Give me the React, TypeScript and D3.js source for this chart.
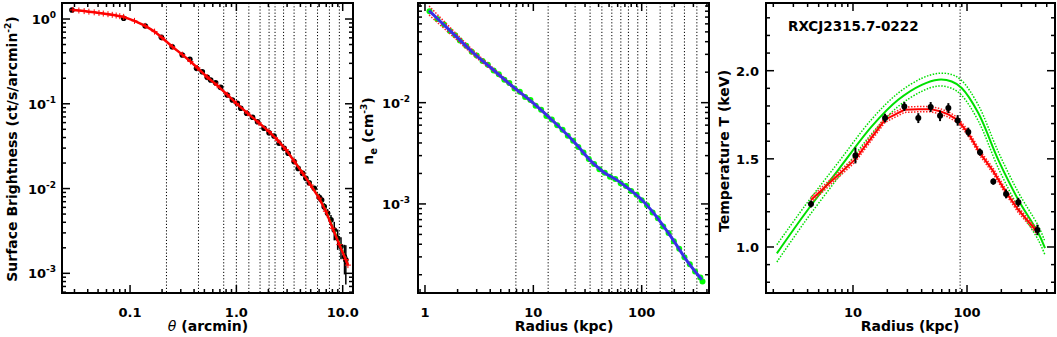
import * as d3 from "d3";

// ---- panel 1: surface brightness profile
const sbTheta = [0.0284, 0.0871, 0.139, 0.197, 0.249, 0.31, 0.365, 0.422, 0.478, 0.532, 0.573, 0.638, 0.711, 0.822, 0.917, 1.02, 1.10, 1.25, 1.42, 1.58, 1.82, 2.03, 2.26, 2.52, 2.81, 3.07, 3.49, 3.81, 4.20, 4.51, 4.84, 5.40, 6.02, 6.34, 6.70, 7.21, 7.76, 8.33, 8.97, 9.64, 10.4, 10.7];
const sbValue = [1.28, 1.02, 0.827, 0.608, 0.471, 0.376, 0.335, 0.262, 0.239, 0.205, 0.191, 0.177, 0.156, 0.127, 0.111, 0.101, 0.0885, 0.0773, 0.0693, 0.0615, 0.0514, 0.0456, 0.0417, 0.0342, 0.0299, 0.0261, 0.0208, 0.0173, 0.0151, 0.0132, 0.0117, 0.0101, 0.00789, 0.00734, 0.00612, 0.00512, 0.00427, 0.00325, 0.00259, 0.00207, 0.00157, 0.00144];
const sbErr = [0.02, 0.015, 0.012, 0.01, 0.008, 0.007, 0.006, 0.005, 0.005, 0.004, 0.004, 0.004, 0.003, 0.003, 0.003, 0.002, 0.002, 0.002, 0.0015, 0.0015, 0.0012, 0.001, 0.001, 0.0009, 0.0008, 0.0007, 0.0006, 0.0006, 0.0005, 0.0005, 0.0005, 0.0005, 0.0008, 0.0007, 0.0006, 0.0006, 0.0006, 0.0008, 0.0007, 0.0006, 0.0006, 0.0007];
const sbModelTheta = [0.029, 0.033, 0.037, 0.041, 0.046, 0.051, 0.056, 0.062, 0.068, 0.074, 0.08, 0.087, 0.11, 0.139, 0.17, 0.2, 0.25, 0.31, 0.37, 0.43, 0.53, 0.66, 0.82, 1.0, 1.27, 1.63, 2.03, 2.44, 2.92, 3.5, 4.2, 5.0, 6.0, 6.95, 8.05, 9.3, 10.7, 11.2];
const sbModel = [1.28, 1.26, 1.24, 1.22, 1.2, 1.18, 1.16, 1.14, 1.12, 1.1, 1.08, 1.06, 0.95, 0.83, 0.71, 0.6, 0.47, 0.38, 0.315, 0.265, 0.207, 0.165, 0.128, 0.101, 0.0775, 0.0595, 0.047, 0.0372, 0.0288, 0.021, 0.0152, 0.011, 0.0077, 0.0054, 0.0034, 0.00218, 0.00145, 0.00125];
const sbGreen = [1.28, 1.26, 1.24, 1.22, 1.2, 1.18, 1.16, 1.14, 1.12, 1.1, 1.08, 1.06, 0.95, 0.83, 0.71, 0.6, 0.47, 0.38, 0.315, 0.265, 0.207, 0.165, 0.128, 0.101, 0.0778, 0.0598, 0.0474, 0.0376, 0.0292, 0.0214, 0.0156, 0.0114, 0.0080, 0.0057, 0.0036, 0.00232, 0.00152, 0.00128];
const annuliArcmin = [0.22, 0.44, 0.76, 1.0, 1.31, 1.67, 2.03, 2.31, 2.78, 3.49, 4.5, 5.8, 7.5, 9.3];

// ---- panel 2: electron density
const neR = [1.1, 1.3, 1.5, 1.7, 1.9, 2.1, 2.4, 2.7, 3.0, 3.4, 3.8, 4.3, 4.8, 5.4, 6.0, 6.7, 7.5, 8.4, 9.4, 10.5, 11.8, 13.2, 14.8, 16.6, 18.6, 20.8, 23.3, 26, 29, 32.5, 36.4, 40.7, 45.6, 51, 57, 64, 71.6, 80, 89.7, 100, 112, 126, 141, 158, 177, 198, 222, 248, 278, 311, 348, 364];
const neData = [0.080, 0.0670, 0.0590, 0.0510, 0.0462, 0.0412, 0.0365, 0.0318, 0.0293, 0.0258, 0.0237, 0.0208, 0.0191, 0.0168, 0.0156, 0.0138, 0.0128, 0.0114, 0.0106, 0.0093, 0.0085, 0.0074, 0.0068, 0.0060, 0.0054, 0.0047, 0.0042, 0.00365, 0.00322, 0.00278, 0.00248, 0.00220, 0.00203, 0.00186, 0.00176, 0.00160, 0.00150, 0.00134, 0.00123, 0.00109, 0.00097, 0.000825, 0.000722, 0.000598, 0.000515, 0.000428, 0.000362, 0.000297, 0.000254, 0.000215, 0.000188, 0.000171];
const neModelR = [1.09, 1.5, 2.0, 2.7, 4.43, 6.3, 10, 15.9, 24.3, 34.6, 44.3, 61, 78, 100, 133, 190, 270, 359];
const neModel = [0.081, 0.0585, 0.0436, 0.032, 0.0204, 0.0147, 0.0099, 0.0063, 0.0040, 0.0026, 0.00207, 0.00168, 0.00138, 0.0011, 0.00078, 0.00046, 0.000262, 0.000179];
const neEnvR = [1.09, 1.5, 2.0, 2.7, 4.43, 6.3, 10, 15.9];
const neHi = [0.090, 0.0635, 0.0466, 0.0338, 0.0212, 0.0151, 0.0101, 0.0064];
const neLo = [0.0735, 0.054, 0.041, 0.0304, 0.0197, 0.0143, 0.0097, 0.0062];
const annuliKpc = [6.9, 13.7, 24.3, 33.4, 42.9, 53, 64.2, 75.4, 92, 111, 148, 190, 248, 323];

// ---- panel 3: temperature profile
const tR = [4.28, 10.5, 19.1, 28.2, 37.4, 48, 58, 68.6, 82.8, 102.6, 130, 170, 220, 282, 414];
const tData = [1.244, 1.519, 1.731, 1.797, 1.731, 1.794, 1.744, 1.788, 1.718, 1.652, 1.538, 1.371, 1.301, 1.254, 1.097];
const tErr = [0.02, 0.045, 0.025, 0.025, 0.028, 0.028, 0.03, 0.028, 0.03, 0.025, 0.02, 0.018, 0.025, 0.025, 0.03];
const tRedR = [4.28, 10.5, 19.1, 28.2, 37.4, 48, 58, 68.6, 82.8, 102.6, 130, 170, 220, 282, 414];
const tRed = [1.267, 1.498, 1.722, 1.778, 1.782, 1.782, 1.77, 1.752, 1.72, 1.645, 1.532, 1.43, 1.31, 1.21, 1.085];
const tRedHi = [1.282, 1.513, 1.737, 1.793, 1.797, 1.797, 1.785, 1.767, 1.735, 1.66, 1.547, 1.445, 1.325, 1.225, 1.1];
const tRedLo = [1.252, 1.483, 1.707, 1.763, 1.767, 1.767, 1.755, 1.737, 1.705, 1.63, 1.517, 1.415, 1.295, 1.195, 1.07];
const tGreenR = [2.15, 3.8, 7.43, 14.6, 24.9, 40.1, 56, 73.4, 89.8, 125.6, 188, 282, 423, 483];
const tGreen = [0.964, 1.19, 1.4375, 1.684, 1.835, 1.92, 1.949, 1.939, 1.902, 1.76, 1.494, 1.267, 1.078, 0.993];
const tGreenHi = [1.013, 1.235, 1.48, 1.725, 1.873, 1.957, 1.985, 1.978, 1.944, 1.805, 1.54, 1.31, 1.118, 1.03];
const tGreenLo = [0.915, 1.145, 1.395, 1.643, 1.797, 1.883, 1.913, 1.9, 1.86, 1.715, 1.448, 1.224, 1.038, 0.955];
const tMarkKpc = [87];

type Box = { x0: number; x1: number; y0: number; y1: number };
const B1: Box = { x0: 62, x1: 353, y0: 3, y1: 293 };
const B2: Box = { x0: 418, x1: 709, y0: 3, y1: 293 };
const B3: Box = { x0: 766, x1: 1055, y0: 3, y1: 293 };

const FONT = "DejaVu Sans, sans-serif";
const zip = (a: number[], b: number[]) => a.map((v, i) => [v, b[i]] as [number, number]);
const isPow10 = (v: number) => Math.abs(Math.log10(v) - Math.round(Math.log10(v))) < 1e-6;

function Frame({ box, xt, yt }: { box: Box; xt: { p: number; major: boolean }[]; yt: { p: number; major: boolean }[] }) {
  const { x0, x1, y0, y1 } = box;
  const lines: any[] = [];
  xt.forEach((t, i) => {
    const L = t.major ? 8 : 4;
    lines.push(<line key={"xb" + i} x1={t.p} x2={t.p} y1={y1} y2={y1 - L} />);
    lines.push(<line key={"xt" + i} x1={t.p} x2={t.p} y1={y0} y2={y0 + L} />);
  });
  yt.forEach((t, i) => {
    const L = t.major ? 8 : 4;
    lines.push(<line key={"yl" + i} x1={x0} x2={x0 + L} y1={t.p} y2={t.p} />);
    lines.push(<line key={"yr" + i} x1={x1} x2={x1 - L} y1={t.p} y2={t.p} />);
  });
  return (
    <g stroke="#000" strokeWidth={1.5} fill="none">
      {lines}
      <rect x={x0} y={y0} width={x1 - x0} height={y1 - y0} strokeWidth={2} />
    </g>
  );
}

function logTicks(s: d3.ScaleLogarithmic<number, number>) {
  const [a, b] = s.domain();
  return s.ticks().filter((v) => v >= a && v <= b).map((v) => ({ v, p: s(v), major: isPow10(v) }));
}

function Dotted({ xs, box, values }: { xs: (v: number) => number; box: Box; values: number[] }) {
  return (
    <g stroke="#000" strokeWidth={1} strokeDasharray="1.2,2">
      {values.map((v, i) => (
        <line key={i} x1={xs(v)} x2={xs(v)} y1={box.y0} y2={box.y1} />
      ))}
    </g>
  );
}

function Panel1() {
  const b = B1;
  const x = d3.scaleLog().domain([0.0229, 12.5]).range([b.x0, b.x1]);
  const y = d3.scaleLog().domain([5.86e-4, 1.545]).range([b.y1, b.y0]);
  const xt = logTicks(x);
  const yt = logTicks(y);
  const line = d3.line<[number, number]>().x((d) => x(d[0])).y((d) => y(d[1]));
  const model = zip(sbModelTheta, sbModel);
  const xLabels: Record<string, string> = { "0.1": "0.1", "1": "1.0", "10": "10.0" };
  return (
    <g>
      <defs>
        <clipPath id="c1"><rect x={b.x0} y={b.y0} width={b.x1 - b.x0} height={b.y1 - b.y0} /></clipPath>
      </defs>
      <Dotted xs={x} box={b} values={annuliArcmin} />
      <g clipPath="url(#c1)">
        <g stroke="#000" strokeWidth={1.5}>
          {sbTheta.map((t, i) => (
            <line key={i} x1={x(t)} x2={x(t)} y1={y(Math.max(sbValue[i] - sbErr[i], 1e-5))} y2={y(sbValue[i] + sbErr[i])} />
          ))}
        </g>
        {sbTheta.map((t, i) => (
          <circle key={i} cx={x(t)} cy={y(sbValue[i])} r={2.8} fill="#000" />
        ))}
        <path d={line(zip(sbModelTheta, sbGreen)) || ""} fill="none" stroke="#00e000" strokeWidth={1.5} strokeDasharray="2,1.5" />
        <path d={line(model) || ""} fill="none" stroke="#ff0000" strokeWidth={2.5} />
        <g stroke="#ff0000" strokeWidth={1}>
          {model.map((d, i) => (
            <g key={i}>
              <line x1={x(d[0]) - 3} x2={x(d[0]) + 3} y1={y(d[1])} y2={y(d[1])} />
              <line x1={x(d[0])} x2={x(d[0])} y1={y(d[1]) - 3} y2={y(d[1]) + 3} />
            </g>
          ))}
        </g>
      </g>
      <Frame box={b} xt={xt} yt={yt} />
      <g fontFamily={FONT} fontWeight="bold" fontSize={13} fill="#000">
        {xt.filter((t) => t.major).map((t) => (
          <text key={t.v} x={t.p} y={317} textAnchor="middle">{xLabels[String(t.v)]}</text>
        ))}
        {yt.filter((t) => t.major).map((t) => (
          <text key={t.v} x={b.x0 - 6} y={t.p + 5} textAnchor="end">
            10<tspan dy={-6} fontSize={9}>{String(Math.round(Math.log10(t.v)))}</tspan>
          </text>
        ))}
        <text x={208} y={331} textAnchor="middle" fontSize={14}>
          <tspan fontStyle="italic" fontWeight="normal">θ</tspan> (arcmin)
        </text>
        <text transform="translate(17,149) rotate(-90)" textAnchor="middle" fontSize={14}>
          Surface Brightness (ct/s/arcmin<tspan dy={-6} fontSize={9}>-2</tspan><tspan dy={6}>)</tspan>
        </text>
      </g>
    </g>
  );
}

function Panel2() {
  const b = B2;
  const x = d3.scaleLog().domain([0.862, 418]).range([b.x0, b.x1]);
  const y = d3.scaleLog().domain([1.32e-4, 0.0964]).range([b.y1, b.y0]);
  const xt = logTicks(x);
  const yt = logTicks(y);
  const smooth = d3.line<[number, number]>().x((d) => x(d[0])).y((d) => y(d[1])).curve(d3.curveMonotoneX);
  return (
    <g>
      <defs>
        <clipPath id="c2"><rect x={b.x0} y={b.y0} width={b.x1 - b.x0} height={b.y1 - b.y0} /></clipPath>
      </defs>
      <Dotted xs={x} box={b} values={annuliKpc} />
      <g clipPath="url(#c2)">
        {neR.map((r, i) => (
          <circle key={i} cx={x(r)} cy={y(neData[i])} r={3} fill="#00ff00" />
        ))}
        <path d={smooth(zip(neEnvR, neHi)) || ""} fill="none" stroke="#ff2020" strokeWidth={1.5} strokeDasharray="1.5,1.5" />
        <path d={smooth(zip(neEnvR, neLo)) || ""} fill="none" stroke="#ff2020" strokeWidth={1.5} strokeDasharray="1.5,1.5" />
        <path d={smooth(zip(neModelR, neModel)) || ""} fill="none" stroke="#3a2ee6" strokeWidth={3} />
      </g>
      <Frame box={b} xt={xt} yt={yt} />
      <g fontFamily={FONT} fontWeight="bold" fontSize={13} fill="#000">
        {xt.filter((t) => t.major).map((t) => (
          <text key={t.v} x={t.p} y={317} textAnchor="middle">{String(t.v)}</text>
        ))}
        {yt.filter((t) => t.major).map((t) => (
          <text key={t.v} x={b.x0 - 8} y={t.p + 5} textAnchor="end">
            10<tspan dy={-6} fontSize={9}>{String(Math.round(Math.log10(t.v)))}</tspan>
          </text>
        ))}
        <text x={564} y={331} textAnchor="middle" fontSize={14}>Radius (kpc)</text>
        <text transform="translate(373,131) rotate(-90)" textAnchor="middle" fontSize={14}>
          n<tspan dy={4} fontSize={10}>e</tspan><tspan dy={-4}> (cm</tspan><tspan dy={-6} fontSize={9}>-3</tspan><tspan dy={6}>)</tspan>
        </text>
      </g>
    </g>
  );
}

function Panel3() {
  const b = B3;
  const x = d3.scaleLog().domain([1.726, 591]).range([b.x0, b.x1]);
  const y = d3.scaleLinear().domain([0.739, 2.384]).range([b.y1, b.y0]);
  const xt = logTicks(x);
  const yt = y.ticks(20).map((v) => ({ v, p: y(v), major: Math.abs(v * 2 - Math.round(v * 2)) < 1e-6 }));
  const lin = d3.line<[number, number]>().x((d) => x(d[0])).y((d) => y(d[1]));
  const smooth = d3.line<[number, number]>().x((d) => x(d[0])).y((d) => y(d[1])).curve(d3.curveCatmullRom.alpha(0.5));
  return (
    <g>
      <defs>
        <clipPath id="c3"><rect x={b.x0} y={b.y0} width={b.x1 - b.x0} height={b.y1 - b.y0} /></clipPath>
      </defs>
      <Dotted xs={x} box={b} values={tMarkKpc} />
      <g clipPath="url(#c3)">
        <path d={smooth(zip(tGreenR, tGreenHi)) || ""} fill="none" stroke="#00e000" strokeWidth={1.5} strokeDasharray="1.5,1.5" />
        <path d={smooth(zip(tGreenR, tGreenLo)) || ""} fill="none" stroke="#00e000" strokeWidth={1.5} strokeDasharray="1.5,1.5" />
        <path d={smooth(zip(tGreenR, tGreen)) || ""} fill="none" stroke="#00e000" strokeWidth={2} />
        <path d={lin(zip(tRedR, tRedHi)) || ""} fill="none" stroke="#ff2020" strokeWidth={1.5} strokeDasharray="1.5,1.5" />
        <path d={lin(zip(tRedR, tRedLo)) || ""} fill="none" stroke="#ff2020" strokeWidth={1.5} strokeDasharray="1.5,1.5" />
        <path d={lin(zip(tRedR, tRed)) || ""} fill="none" stroke="#ff0000" strokeWidth={2} />
        <g stroke="#000" strokeWidth={2}>
          {tR.map((r, i) => (
            <line key={i} x1={x(r)} x2={x(r)} y1={y(tData[i] - tErr[i])} y2={y(tData[i] + tErr[i])} />
          ))}
        </g>
        {tR.map((r, i) => (
          <circle key={i} cx={x(r)} cy={y(tData[i])} r={3} fill="#000" />
        ))}
      </g>
      <Frame box={b} xt={xt} yt={yt} />
      <g fontFamily={FONT} fontWeight="bold" fontSize={13} fill="#000">
        {xt.filter((t) => t.major).map((t) => (
          <text key={t.v} x={t.p} y={317} textAnchor="middle">{String(t.v)}</text>
        ))}
        {yt.filter((t) => t.major).map((t) => (
          <text key={t.v} x={b.x0 - 7} y={t.p + 5} textAnchor="end">{t.v.toFixed(1)}</text>
        ))}
        <text x={910} y={331} textAnchor="middle" fontSize={14}>Radius (kpc)</text>
        <text transform="translate(729,151) rotate(-90)" textAnchor="middle" fontSize={14}>Temperature T (keV)</text>
        <text x={788} y={31} fontSize={13.5}>RXCJ2315.7-0222</text>
      </g>
    </g>
  );
}

export default function App() {
  return (
    <svg width={1057} height={337} style={{ position: "absolute", left: 0, top: 0, background: "#fff" }}>
      <rect width={1057} height={337} fill="#fff" />
      <Panel1 />
      <Panel2 />
      <Panel3 />
    </svg>
  );
}
